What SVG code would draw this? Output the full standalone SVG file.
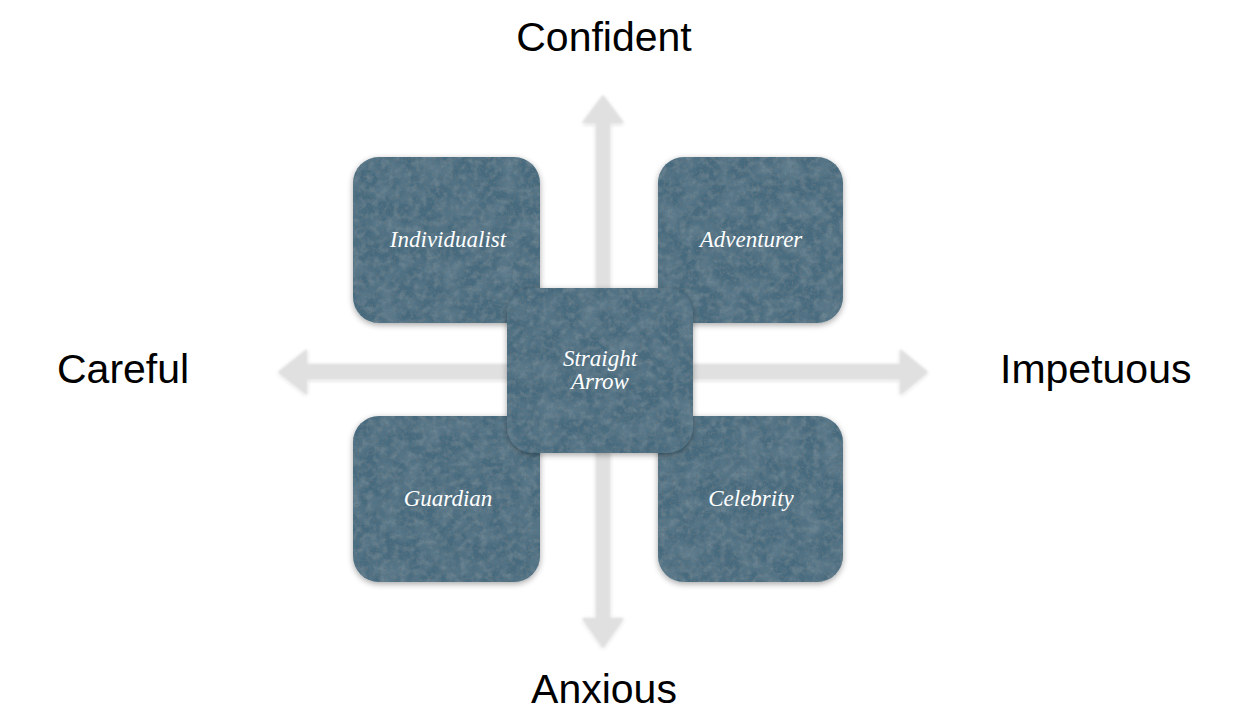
<svg xmlns="http://www.w3.org/2000/svg" width="1236" height="720" viewBox="0 0 1236 720">
<style>
.axis{font-family:"Liberation Sans",Arial,sans-serif;font-size:41px;fill:#000}
.lbl{font-family:"Liberation Serif","Times New Roman",serif;font-style:italic;font-size:23px;fill:#fff;text-anchor:middle}
.box{fill:#476a7e;filter:url(#stone)}
.arr{fill:#e0e0e0;filter:url(#soft)}
</style>
<defs>
<filter id="soft" x="-10%" y="-10%" width="120%" height="120%">
<feGaussianBlur in="SourceAlpha" stdDeviation="2" result="b"/>
<feOffset in="b" dx="0" dy="1" result="o"/>
<feComponentTransfer in="o" result="s"><feFuncA type="linear" slope="0.22"/></feComponentTransfer>
<feGaussianBlur in="SourceGraphic" stdDeviation="0.8" result="g"/>
<feMerge><feMergeNode in="s"/><feMergeNode in="g"/></feMerge>
</filter>
<filter id="stone" x="-10%" y="-10%" width="120%" height="125%">
<feGaussianBlur in="SourceAlpha" stdDeviation="3" result="sb"/>
<feOffset in="sb" dx="0" dy="2" result="so"/>
<feComponentTransfer in="so" result="shadow"><feFuncA type="linear" slope="0.35"/></feComponentTransfer>
<feTurbulence type="fractalNoise" baseFrequency="0.05" numOctaves="3" seed="7" result="n1"/>
<feColorMatrix in="n1" type="matrix" values="0 0 0 0 0.42  0 0 0 0 0.56  0 0 0 0 0.65  0.3 0 0 0 -0.11" result="light"/>
<feComposite in="light" in2="SourceGraphic" operator="in" result="lightc"/>
<feTurbulence type="fractalNoise" baseFrequency="0.5" numOctaves="2" seed="3" result="n2"/>
<feColorMatrix in="n2" type="matrix" values="0 0 0 0 0.12  0 0 0 0 0.17  0 0 0 0 0.2  5 0 0 0 -2.9" result="dark"/>
<feComposite in="dark" in2="SourceGraphic" operator="in" result="darkc"/>
<feTurbulence type="fractalNoise" baseFrequency="0.15" numOctaves="3" seed="11" result="n3"/>
<feColorMatrix in="n3" type="matrix" values="0 0 0 0 0.2  0 0 0 0 0.28  0 0 0 0 0.33  1.2 0 0 0 -0.5" result="mid"/>
<feComposite in="mid" in2="SourceGraphic" operator="in" result="midc"/>
<feMerge><feMergeNode in="shadow"/><feMergeNode in="SourceGraphic"/><feMergeNode in="lightc"/><feMergeNode in="midc"/><feMergeNode in="darkc"/></feMerge>
</filter>
</defs>
<g id="connectors">
<polygon class="arr" points="603,95 624,123 610,123 610,618 624,618 603,648 582,618 596,618 596,123 582,123"/>
<polygon class="arr" points="278,372 307,349 307,364 900,364 900,349 928,372 900,395 900,379 307,379 307,395"/>
</g>
<g id="individualist"><rect class="box" x="353" y="157" width="187" height="166" rx="26"/><text class="lbl" x="448" y="247">Individualist</text></g>
<g id="adventurer"><rect class="box" x="658" y="157" width="185" height="166" rx="26"/><text class="lbl" x="751" y="247">Adventurer</text></g>
<g id="guardian"><rect class="box" x="353" y="416" width="187" height="166" rx="26"/><text class="lbl" x="448" y="506">Guardian</text></g>
<g id="celebrity"><rect class="box" x="658" y="416" width="185" height="166" rx="26"/><text class="lbl" x="751" y="506">Celebrity</text></g>
<g id="straight-arrow"><rect class="box" x="507" y="288" width="186" height="165" rx="26"/><text class="lbl" x="600" y="366">Straight</text><text class="lbl" x="600" y="389">Arrow</text></g>
<g id="labels">
<text class="axis" x="604" y="51" text-anchor="middle">Confident</text>
<text class="axis" x="57" y="383">Careful</text>
<text class="axis" x="1000" y="383">Impetuous</text>
<text class="axis" x="604" y="703" text-anchor="middle">Anxious</text>
</g>
</svg>
